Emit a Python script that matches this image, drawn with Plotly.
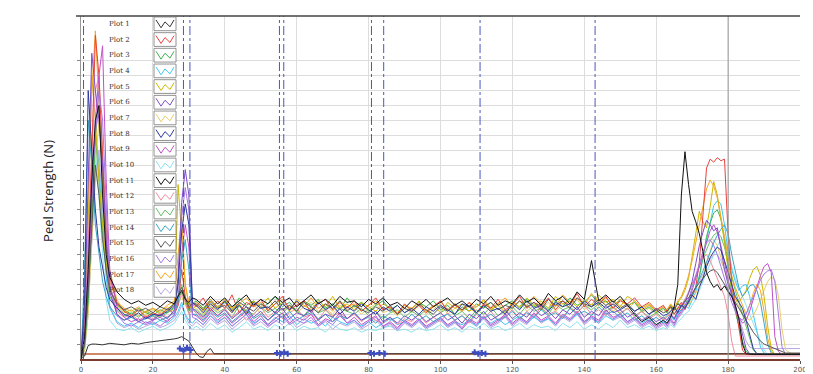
import plotly.graph_objects as go

# ---------------- sampling positions (mm) ----------------
X_START = [0, 1, 2, 3, 4, 5, 6, 7, 8, 10, 12, 14, 16, 18, 20, 22, 24, 26, 27, 28, 29, 30, 31]
X_MID = list(range(32, 163, 2))
X_END = list(range(163, 197)) + [198, 200]
X = X_START + X_MID + X_END

X_TICKS = [0, 20, 40, 60, 80, 100, 120, 140, 160, 180, 200]
Y_GRID = [1, 2, 3, 4, 5, 6, 7, 8, 9, 10, 11, 12, 13, 14, 15, 16, 17, 18, 19, 20]

NAMES = ["Plot 1", "Plot 2", "Plot 3", "Plot 4", "Plot 5", "Plot 6", "Plot 7", "Plot 8", "Plot 9",
         "Plot 10", "Plot 11", "Plot 12", "Plot 13", "Plot 14", "Plot 15", "Plot 16", "Plot 17", "Plot 18"]
COLORS = ["#333333", "#e8413c", "#3cb44b", "#42c8f5", "#cbb800", "#7b4fc9", "#e6cf6a", "#2b3a9e", "#c050c8",
          "#8fe3f0", "#111111", "#f28ca0", "#66c266", "#3aa6c4", "#5a5a5a", "#a678e6", "#f5a623", "#b8a9e0"]

# Plot 1 (low black trace)
P1_X = [0, 1, 2, 3, 4, 6, 8, 10, 12, 14, 16, 18, 20, 22, 24, 26, 27, 28, 29, 30, 31, 32, 33, 34, 35, 36, 37, 200]
P1_Y = [0, 0.2, 0.9, 1.0, 1.0, 0.95, 1.05, 1.0, 0.95, 1.05, 1.0, 1.1, 1.15, 1.25, 1.3, 1.35, 1.4, 1.5, 1.35,
        1.2, 0.8, 0.4, 0.15, 0.1, 0.5, 0.7, 0.35, 0.35]

P2_START = [0, 1.5, 6, 14, 21.7, 19, 13, 8, 5.5, 3.8, 3.2, 2.9, 3.3, 2.8, 3.1, 2.9, 3.4, 3.0, 3.6, 6.0, 4.2, 3.4, 3.8]
P2_MID = [3.5, 4.1, 3.2, 3.9, 3.4, 4.3, 3.1, 3.8, 3.5, 4.0, 3.2,
          3.7, 4.2, 3.3, 3.6, 3.9, 3.1, 3.7, 4.0, 3.3, 3.8, 3.4,
          3.9, 3.2, 3.6, 4.1, 3.3, 3.5, 3.0, 3.7, 3.2, 3.6, 3.1,
          3.5, 3.9, 3.2, 3.6, 3.3, 3.8, 3.1, 3.7, 3.4, 4.0, 3.3,
          3.6, 4.2, 3.4, 3.8, 3.5, 4.1, 3.3, 3.9, 3.6, 4.4, 3.5,
          4.0, 3.6, 4.2, 3.4, 3.9, 3.7, 4.1, 3.5, 3.8, 3.3, 3.6]
P2_END = [3.2, 3.5, 3.0, 3.4, 3.8, 3.3, 3.9, 4.2, 4.8, 6.5, 9.5, 12.8, 13.4, 13.2, 13.5, 13.3, 13.4, 8.4, 5.1, 3.5,
          2.0, 0.6, 0.3, 0.3, 0.3, 0.3, 0.3, 0.3, 0.3, 0.3, 0.3, 0.3, 0.3, 0.3, 0.3, 0.3]

P3_START = [0, 1.0, 4, 10, 15, 17, 12, 7, 4.8, 3.6, 3.3, 3.0, 3.4, 3.1, 2.9, 3.3, 3.1, 3.5, 4.0, 4.5, 3.9, 3.3, 3.7]
P3_MID = [3.9, 3.4, 4.0, 3.5, 3.8, 3.3, 4.1, 3.6, 3.9, 3.4, 3.7,
          4.2, 3.5, 3.8, 3.2, 3.9, 3.6, 4.0, 3.4, 3.7, 3.3, 4.1,
          3.5, 3.8, 3.2, 3.6, 3.9, 3.3, 3.6, 3.1, 3.4, 3.8, 3.5,
          3.9, 3.3, 3.6, 3.0, 3.5, 3.2, 3.7, 3.4, 3.8, 3.3, 3.6,
          3.9, 3.4, 4.0, 3.5, 3.7, 3.3, 3.9, 3.5, 4.1, 3.6, 3.8,
          4.3, 3.7, 3.9, 3.4, 4.0, 3.6, 3.8, 3.2, 3.5, 3.1, 3.4]
P3_END = [3.1, 3.6, 3.3, 3.8, 3.5, 4.0, 3.7, 4.3, 4.8, 5.5, 6.8, 8.2, 9.1, 9.8, 10.0, 9.4, 8.0, 6.2, 4.5, 3.2,
          2.2, 1.2, 0.5, 0.35, 0.3, 0.3, 0.3, 0.3, 0.3, 0.3, 0.3, 0.3, 0.3, 0.3, 0.3, 0.3]

P4_START = [0, 0.8, 5, 11, 15, 13, 9, 5.5, 3.4, 2.5, 2.2, 2.4, 2.1, 2.5, 2.3, 2.6, 2.4, 2.8, 3.2, 3.8, 3.0, 2.6, 2.4]
P4_MID = [2.7, 2.3, 2.9, 2.5, 2.8, 2.2, 2.6, 3.0, 2.4, 2.7, 2.3,
          2.8, 2.5, 2.9, 2.3, 2.7, 2.4, 2.6, 2.2, 2.8, 2.5, 2.3,
          2.6, 2.2, 2.5, 2.1, 2.4, 2.7, 2.3, 2.5, 2.2, 2.6, 2.1,
          2.4, 2.7, 2.2, 2.5, 2.3, 2.6, 2.2, 2.8, 2.4, 2.7, 2.3,
          2.6, 2.9, 2.4, 2.8, 2.5, 2.7, 2.3, 2.9, 2.6, 3.0, 2.5,
          2.8, 2.4, 2.9, 2.6, 3.1, 2.5, 2.8, 2.4, 2.7, 2.3, 2.6]
P4_END = [2.4, 2.8, 2.6, 3.0, 3.3, 3.6, 3.4, 3.9, 4.5, 5.6, 6.8, 8.0, 9.2, 10.3, 10.6, 10.4, 9.0, 7.2, 6.0, 5.2,
          4.6, 4.9, 5.0, 4.2, 3.0, 1.8, 0.8, 0.4, 0.3, 0.3, 0.3, 0.3, 0.3, 0.3, 0.3, 0.3]

P5_START = [0, 2.0, 9, 19, 16, 12, 9, 6.5, 4.6, 3.6, 3.1, 3.3, 2.9, 3.2, 3.4, 3.0, 3.3, 3.8, 11.7, 8.5, 5.0, 3.6, 3.3]
P5_MID = [3.6, 3.2, 3.8, 3.4, 4.0, 3.3, 3.7, 3.1, 3.9, 3.5, 4.1,
          3.4, 3.8, 3.2, 4.0, 3.6, 3.3, 3.9, 3.5, 4.2, 3.4, 3.7,
          3.3, 3.8, 3.5, 3.2, 3.7, 3.4, 3.0, 3.6, 3.3, 3.9, 3.2,
          3.6, 3.1, 3.8, 3.4, 3.7, 3.2, 3.5, 3.9, 3.3, 3.6, 3.1,
          3.8, 3.5, 4.1, 3.6, 3.9, 3.4, 4.2, 3.7, 3.9, 3.5, 4.0,
          3.6, 4.3, 3.8, 4.0, 3.5, 4.2, 3.9, 3.4, 3.7, 3.2, 3.5]
P5_END = [3.3, 3.6, 3.4, 3.8, 4.1, 4.6, 5.4, 6.8, 8.4, 9.9, 9.2, 8.8, 10.2, 11.9, 11.0, 9.5, 7.8, 6.0, 4.8, 4.0,
          3.8, 4.2, 4.6, 5.4, 6.0, 6.2, 5.6, 4.2, 2.2, 0.7, 0.3, 0.3, 0.3, 0.3, 0.3, 0.3]

P6_START = [0, 3.0, 12, 20.5, 18, 16, 13, 8, 4.5, 3.0, 2.6, 2.9, 2.5, 2.8, 2.6, 3.0, 2.7, 3.3, 5.5, 10.5, 12.7, 11.0, 3.4]
P6_MID = [3.2, 2.8, 3.4, 2.9, 3.3, 2.7, 3.1, 3.5, 2.8, 3.2, 2.6,
          3.0, 3.4, 2.7, 3.1, 2.9, 3.3, 2.6, 3.0, 2.8, 3.4, 2.7,
          3.1, 2.6, 2.9, 3.2, 2.5, 2.8, 2.4, 2.9, 2.6, 3.0, 2.5,
          2.8, 3.1, 2.6, 2.9, 2.4, 3.0, 2.7, 3.2, 2.6, 2.9, 3.3,
          2.7, 3.1, 2.8, 3.4, 2.9, 3.2, 2.7, 3.3, 3.0, 3.5, 2.8,
          3.2, 2.9, 3.6, 3.1, 3.3, 2.8, 3.1, 2.6, 2.9, 2.5, 2.8]
P6_END = [2.6, 3.0, 2.7, 3.2, 3.5, 3.8, 4.4, 5.2, 6.4, 7.6, 8.5, 9.3, 9.0, 8.6, 8.8, 7.4, 6.0, 5.0, 4.4, 3.6,
          2.6, 1.5, 0.7, 0.35, 0.3, 0.3, 0.3, 0.3, 0.3, 0.3, 0.3, 0.3, 0.3, 0.3, 0.3, 0.3]

P7_START = [0, 0.6, 3, 8, 13, 16, 13, 9, 6, 4.0, 3.2, 3.0, 3.4, 2.9, 3.3, 3.1, 3.5, 3.2, 3.7, 4.2, 3.6, 3.2, 3.5]
P7_MID = [3.4, 3.0, 3.6, 3.2, 3.8, 3.1, 3.5, 3.3, 3.7, 3.0, 3.4,
          3.9, 3.2, 3.6, 3.1, 3.5, 3.8, 3.2, 3.4, 3.0, 3.6, 3.3,
          3.5, 3.0, 3.4, 3.7, 3.1, 3.3, 2.9, 3.4, 3.1, 3.6, 3.0,
          3.3, 3.7, 3.0, 3.4, 3.2, 3.5, 3.0, 3.6, 3.2, 3.8, 3.1,
          3.4, 3.9, 3.2, 3.6, 3.3, 3.8, 3.2, 3.7, 3.4, 4.0, 3.3,
          3.7, 3.4, 3.9, 3.2, 3.6, 3.3, 3.8, 3.1, 3.4, 3.0, 3.3]
P7_END = [3.1, 3.4, 3.2, 3.5, 3.3, 3.7, 3.6, 4.0, 4.4, 4.9, 5.5, 6.4, 7.2, 8.0, 7.6, 6.8, 6.0, 5.2, 4.6, 4.0,
          3.5, 3.1, 2.8, 2.6, 2.9, 3.4, 4.0, 4.6, 5.2, 5.5, 5.3, 4.2, 2.0, 0.6, 0.3, 0.3]

P8_START = [0, 4, 18, 14, 10, 7.5, 6, 4.8, 4.0, 3.4, 3.0, 2.8, 3.1, 2.7, 3.0, 2.9, 3.2, 3.6, 5.0, 8.5, 10.4, 9.0, 3.8]
P8_MID = [3.6, 3.1, 3.7, 3.3, 3.9, 3.2, 3.6, 3.0, 3.8, 3.4, 3.5,
          3.1, 3.7, 3.3, 3.9, 3.4, 3.2, 3.8, 3.3, 3.6, 3.0, 3.5,
          3.2, 3.7, 3.3, 3.0, 3.5, 3.2, 3.6, 3.1, 3.4, 3.0, 3.5,
          3.2, 3.6, 3.3, 3.0, 3.7, 3.5, 3.1, 3.6, 3.2, 3.4, 3.0,
          3.7, 3.3, 3.9, 3.4, 3.6, 3.2, 3.8, 3.5, 3.7, 3.3, 3.9,
          3.5, 3.8, 3.4, 3.7, 3.3, 3.6, 3.2, 3.5, 3.0, 3.3, 2.9]
P8_END = [3.0, 3.2, 3.5, 3.1, 3.6, 3.4, 3.9, 4.3, 4.0, 4.8, 5.4, 6.2, 6.8, 7.2, 7.5, 7.3, 6.6, 5.8, 5.0, 4.2,
          3.8, 3.4, 2.6, 1.6, 0.7, 0.35, 0.3, 0.3, 0.3, 0.3, 0.3, 0.3, 0.3, 0.3, 0.3, 0.3]

P9_START = [0, 1.2, 5, 11, 16, 19, 21, 12, 6, 3.5, 2.8, 2.5, 2.7, 2.4, 2.6, 2.8, 2.5, 3.0, 4.0, 7.0, 9.0, 7.5, 3.0]
P9_MID = [2.9, 2.5, 3.1, 2.6, 3.0, 2.4, 2.8, 3.2, 2.5, 2.9, 2.3,
          2.7, 3.1, 2.4, 2.8, 2.6, 3.0, 2.3, 2.7, 2.5, 3.1, 2.4,
          2.8, 2.3, 2.6, 2.9, 2.2, 2.5, 2.1, 2.6, 2.3, 2.7, 2.2,
          2.5, 2.8, 2.3, 2.6, 2.1, 2.7, 2.4, 2.9, 2.3, 2.6, 3.0,
          2.4, 2.8, 2.5, 3.1, 2.6, 2.9, 2.4, 3.0, 2.7, 3.2, 2.5,
          2.9, 2.6, 3.3, 2.8, 3.0, 2.5, 2.8, 2.3, 2.6, 2.2, 2.5]
P9_END = [2.3, 2.7, 2.4, 2.9, 3.2, 3.6, 4.0, 4.6, 5.4, 6.2, 7.0, 7.8, 8.6, 9.0, 8.5, 7.6, 6.4, 5.2, 4.2, 3.4,
          2.8, 2.4, 2.6, 3.2, 4.0, 4.8, 5.6, 6.2, 6.4, 5.8, 1.5, 0.5, 0.3, 0.3, 0.3, 0.3]

P10_START = [0, 0.5, 3, 8, 14, 11, 7, 4, 2.6, 2.0, 1.9, 2.1, 1.8, 2.0, 2.2, 1.9, 2.1, 2.4, 2.8, 3.2, 2.6, 2.2, 2.0]
P10_MID = [2.2, 1.9, 2.4, 2.0, 2.3, 1.8, 2.1, 2.5, 2.0, 2.2, 1.9,
           2.3, 2.0, 2.4, 1.9, 2.2, 2.0, 2.1, 1.8, 2.3, 2.0, 1.9,
           2.1, 1.8, 2.0, 1.9, 2.1, 2.2, 1.9, 2.0, 1.8, 2.1, 1.9,
           2.0, 2.3, 1.9, 2.1, 1.8, 2.2, 2.0, 2.4, 2.0, 2.2, 1.9,
           2.1, 2.4, 2.0, 2.3, 2.1, 2.2, 1.9, 2.4, 2.1, 2.5, 2.0,
           2.3, 2.0, 2.4, 2.1, 2.6, 2.1, 2.3, 2.0, 2.2, 1.9, 2.1]
P10_END = [2.0, 2.3, 2.1, 2.5, 2.7, 3.0, 3.2, 3.6, 4.0, 4.6, 5.2, 5.8, 6.4, 7.0, 7.6, 8.0, 8.0, 7.4, 6.2, 5.4,
           4.8, 4.2, 3.6, 3.0, 2.4, 1.8, 1.2, 0.6, 0.3, 0.3, 0.3, 0.3, 0.3, 0.3, 0.3, 0.3]

P11_START = [0, 1.5, 6, 12, 16, 17, 11, 7, 5.5, 4.5, 4.0, 3.7, 3.9, 3.6, 3.8, 3.5, 3.9, 3.7, 4.2, 4.6, 4.0, 3.8, 4.1]
P11_MID = [4.0, 3.6, 4.2, 3.7, 4.1, 3.5, 3.9, 4.3, 3.6, 4.0, 3.7,
           4.2, 3.8, 4.1, 3.5, 3.9, 4.3, 3.7, 4.0, 3.6, 4.2, 3.8,
           3.9, 3.5, 4.0, 3.7, 4.1, 3.6, 3.8, 3.4, 3.9, 3.6, 4.0,
           3.5, 3.8, 4.1, 3.6, 3.9, 3.5, 4.0, 3.7, 4.2, 3.6, 3.9,
           3.7, 4.3, 3.8, 4.1, 3.6, 4.4, 3.9, 4.2, 3.7, 4.5, 4.0,
           6.6, 3.9, 4.3, 3.8, 4.2, 3.6, 3.0, 2.5, 2.8, 2.3, 2.6]
P11_END = [2.4, 2.8, 3.5, 5.0, 11.0, 13.9, 11.7, 9.9, 9.2, 8.4, 7.2, 5.8, 5.2, 4.8, 5.0, 4.6, 4.9, 4.5, 4.2, 3.6,
           2.7, 1.0, 0.35, 0.3, 0.3, 0.3, 0.3, 0.3, 0.3, 0.3, 0.3, 0.3, 0.3, 0.3, 0.3, 0.3]

P12_START = [0, 2.0, 8, 14, 18, 19, 14, 9, 5.0, 3.2, 2.8, 3.0, 2.6, 2.9, 2.7, 3.1, 2.8, 3.2, 3.6, 4.4, 3.8, 3.0, 3.3]
P12_MID = [3.1, 2.7, 3.3, 2.9, 3.4, 2.8, 3.2, 2.6, 3.0, 3.5, 2.8,
           3.2, 2.7, 3.1, 3.4, 2.8, 3.0, 2.6, 3.3, 2.9, 3.1, 2.7,
           3.0, 2.5, 2.9, 2.6, 2.4, 2.8, 2.3, 2.7, 2.5, 3.0, 2.4,
           2.8, 2.5, 3.1, 2.6, 2.9, 2.4, 3.0, 2.7, 3.2, 2.6, 2.9,
           3.3, 2.7, 3.2, 2.8, 3.5, 3.0, 3.2, 2.8, 3.4, 3.1, 3.6,
           3.0, 3.3, 2.9, 3.5, 3.1, 3.4, 2.8, 3.2, 2.7, 3.0, 2.6]
P12_END = [2.8, 3.1, 2.7, 3.3, 3.6, 4.0, 4.5, 5.0, 5.6, 6.2, 6.8, 7.0, 6.6, 6.0, 5.4, 4.8, 4.2, 3.0, 1.2, 0.2,
           0.2, 0.2, 0.2, 0.2, 0.2, 0.2, 0.2, 0.2, 0.2, 0.2, 0.2, 0.2, 0.2, 0.2, 0.2, 0.2]

P13_START = [0, 0.9, 4, 10, 15, 12, 8.5, 6, 4.2, 3.3, 2.9, 3.1, 2.8, 3.2, 3.0, 2.8, 3.1, 3.4, 4.2, 5.0, 4.0, 3.1, 3.3]
P13_MID = [3.3, 2.9, 3.5, 3.1, 3.4, 2.8, 3.6, 3.2, 3.0, 3.5, 3.1,
           3.4, 3.0, 3.6, 3.2, 2.9, 3.5, 3.1, 3.3, 2.8, 3.4, 3.2,
           3.0, 3.4, 2.9, 3.2, 2.7, 3.1, 3.3, 2.8, 3.2, 2.9, 3.3,
           2.8, 3.1, 3.4, 2.9, 3.2, 2.7, 3.3, 3.0, 3.5, 2.9, 3.2,
           3.5, 3.0, 3.6, 3.2, 3.4, 3.0, 3.7, 3.3, 3.5, 3.1, 3.6,
           3.3, 3.7, 3.2, 3.5, 3.0, 3.4, 2.9, 3.2, 2.8, 3.1, 2.7]
P13_END = [2.9, 3.2, 3.0, 3.4, 3.6, 3.9, 4.4, 5.0, 5.5, 6.2, 6.8, 7.4, 7.9, 8.3, 8.5, 8.2, 7.5, 6.4, 5.4, 4.6,
           3.8, 3.0, 2.2, 1.4, 0.6, 0.35, 0.3, 0.3, 0.3, 0.3, 0.3, 0.3, 0.3, 0.3, 0.3, 0.3]

P14_START = [0, 6, 16, 13, 9, 7, 5.2, 4.2, 3.5, 2.9, 2.6, 2.8, 2.5, 2.7, 2.9, 2.6, 2.8, 3.1, 3.8, 6.5, 8.0, 6.0, 3.0]
P14_MID = [3.0, 2.6, 3.2, 2.8, 3.1, 2.5, 2.9, 3.3, 2.7, 3.0, 2.6,
           3.1, 2.8, 3.2, 2.6, 2.9, 3.1, 2.7, 3.0, 2.5, 2.9, 2.7,
           3.1, 2.6, 2.8, 2.4, 2.9, 2.6, 2.8, 2.5, 3.0, 2.6, 2.9,
           2.5, 2.8, 3.0, 2.6, 2.9, 2.5, 3.1, 2.7, 3.0, 2.6, 2.8,
           3.2, 2.7, 3.1, 2.8, 3.3, 2.9, 3.1, 2.7, 3.4, 3.0, 3.2,
           2.9, 3.5, 3.0, 3.2, 2.8, 3.1, 2.6, 2.9, 2.5, 2.8, 2.4]
P14_END = [2.6, 2.9, 2.7, 3.1, 3.3, 3.6, 3.9, 4.3, 4.8, 5.3, 5.9, 6.5, 7.2, 7.8, 8.3, 8.7, 9.0, 8.4, 7.0, 5.8,
           4.8, 4.2, 4.5, 4.9, 5.0, 4.6, 3.8, 2.4, 1.0, 0.4, 0.3, 0.3, 0.3, 0.3, 0.3, 0.3]

P15_START = [0, 1.0, 4.5, 9, 13, 11, 8, 6, 4.6, 3.7, 3.3, 3.5, 3.2, 3.4, 3.1, 3.5, 3.3, 3.7, 4.3, 4.8, 4.1, 3.5, 3.7]
P15_MID = [3.7, 3.3, 3.9, 3.4, 3.6, 3.1, 3.8, 3.5, 3.2, 3.7, 3.4,
           3.9, 3.3, 3.6, 3.2, 3.8, 3.5, 3.1, 3.7, 3.4, 3.9, 3.2,
           3.6, 3.3, 3.1, 3.5, 3.2, 3.6, 3.0, 3.4, 3.2, 3.7, 3.3,
           3.0, 3.5, 3.2, 3.7, 3.3, 3.6, 3.1, 3.5, 3.8, 3.3, 3.6,
           3.4, 3.9, 3.5, 3.8, 3.3, 4.0, 3.6, 3.9, 3.4, 4.1, 3.7,
           3.5, 4.0, 3.6, 3.9, 3.4, 3.7, 3.2, 3.5, 3.0, 3.4, 3.1]
P15_END = [3.2, 3.5, 3.3, 3.7, 3.5, 3.9, 4.1, 4.4, 4.8, 5.1, 5.4, 5.7, 5.9, 6.0, 5.8, 5.4, 5.0, 4.6, 4.2, 3.8,
           3.4, 3.0, 2.6, 2.2, 1.8, 1.5, 1.2, 1.0, 0.9, 0.8, 0.7, 0.6, 0.5, 0.4, 0.4, 0.4]

P16_START = [0, 1.5, 7, 12, 15, 18, 16, 10, 5, 3.0, 2.4, 2.2, 2.5, 2.3, 2.5, 2.2, 2.6, 2.9, 5.0, 9.5, 11.5, 10.0, 2.8]
P16_MID = [2.7, 2.3, 2.9, 2.4, 2.8, 2.2, 2.6, 3.0, 2.3, 2.7, 2.2,
           2.5, 2.9, 2.3, 2.6, 2.4, 2.8, 2.2, 2.6, 2.3, 2.9, 2.4,
           2.6, 2.1, 2.5, 2.8, 2.2, 2.4, 2.0, 2.5, 2.2, 2.6, 2.1,
           2.4, 2.7, 2.2, 2.5, 2.0, 2.6, 2.3, 2.8, 2.2, 2.5, 2.9,
           2.3, 2.7, 2.4, 3.0, 2.5, 2.8, 2.3, 2.9, 2.6, 3.1, 2.4,
           2.8, 2.5, 3.2, 2.7, 2.9, 2.4, 2.7, 2.2, 2.5, 2.1, 2.4]
P16_END = [2.2, 2.6, 2.3, 2.8, 3.1, 3.5, 4.0, 4.8, 5.6, 6.4, 7.2, 7.8, 8.0, 7.6, 7.0, 6.2, 5.4, 4.6, 3.8, 3.2,
           2.8, 2.6, 3.0, 3.6, 4.2, 4.8, 5.3, 5.7, 5.9, 6.0, 5.2, 3.0, 0.8, 0.3, 0.3, 0.3]

P17_START = [0, 2.5, 11, 18, 22, 17, 12, 7.5, 5.2, 3.8, 3.4, 3.2, 3.5, 3.1, 3.4, 3.2, 3.6, 3.9, 7.0, 9.5, 5.0, 3.8, 3.5]
P17_MID = [3.8, 3.3, 4.0, 3.5, 3.9, 3.4, 3.7, 4.1, 3.5, 3.8, 3.3,
           3.7, 4.0, 3.4, 3.8, 3.5, 4.1, 3.4, 3.7, 3.2, 3.9, 3.5,
           3.7, 3.2, 3.6, 3.9, 3.3, 3.5, 3.1, 3.6, 3.4, 3.8, 3.2,
           3.5, 3.9, 3.3, 3.7, 3.2, 3.8, 3.5, 4.0, 3.4, 3.7, 4.1,
           3.5, 3.9, 3.6, 4.2, 3.7, 4.0, 3.5, 4.3, 3.8, 4.1, 3.6,
           4.4, 3.8, 4.1, 3.6, 4.0, 3.5, 3.9, 3.3, 3.6, 3.2, 3.5]
P17_END = [3.3, 3.7, 3.4, 3.9, 4.2, 4.8, 5.6, 6.6, 7.8, 9.0, 10.2, 11.4, 12.0, 11.6, 10.8, 9.6, 8.2, 6.8, 5.6, 4.8,
           4.2, 3.6, 3.0, 3.6, 4.4, 5.0, 4.6, 3.2, 1.4, 0.5, 0.3, 0.3, 0.3, 0.3, 0.3, 0.3]

P18_START = [0, 0.7, 3.5, 8, 12, 14, 10, 6, 3.6, 2.4, 2.1, 2.3, 2.0, 2.2, 2.4, 2.1, 2.3, 2.6, 3.0, 3.6, 2.9, 2.4, 2.2]
P18_MID = [2.5, 2.1, 2.7, 2.3, 2.6, 2.0, 2.4, 2.8, 2.2, 2.5, 2.1,
           2.6, 2.3, 2.7, 2.1, 2.4, 2.6, 2.2, 2.5, 2.0, 2.4, 2.2,
           2.5, 2.0, 2.3, 2.6, 2.1, 2.3, 1.9, 2.4, 2.1, 2.5, 2.0,
           2.3, 2.6, 2.1, 2.4, 2.0, 2.5, 2.2, 2.7, 2.1, 2.4, 2.8,
           2.2, 2.6, 2.3, 2.9, 2.4, 2.7, 2.2, 2.8, 2.5, 3.0, 2.3,
           2.7, 2.4, 3.1, 2.6, 2.8, 2.3, 2.6, 2.1, 2.4, 2.0, 2.3]
P18_END = [2.1, 2.5, 2.2, 2.7, 3.0, 3.4, 3.8, 4.2, 4.7, 5.2, 5.8, 6.3, 6.7, 7.0, 7.0, 6.6, 6.0, 5.2, 4.4, 3.6,
           2.8, 2.0, 1.2, 0.8, 0.7, 0.7, 0.7, 0.7, 0.7, 0.7, 0.7, 0.7, 0.7, 0.7, 0.7, 0.7]

# reference baseline and cursor markers near the bottom
BASE_X = [0, 200]
BASE_Y = [0.33, 0.33]
MARK_X = [27.5, 28.5, 29.5, 30.5, None, 54.5, 55.5, 56.5, 57.5, None, 80.5, 81.5, 83.0, 84.5, None,
          109.5, 110.5, 111.5, 112.5]
MARK_Y = [0.7, 0.55, 0.75, 0.6, None, 0.4, 0.35, 0.45, 0.35, None, 0.4, 0.35, 0.4, 0.35, None,
          0.45, 0.35, 0.4, 0.35]
V_DASH = [0.7, 28.5, 30.3, 55.2, 56.4, 80.8, 84.2, 111.0, 143.0]
V_SOLID = [180]

SERIES = {
    2: (P2_START, P2_MID, P2_END), 3: (P3_START, P3_MID, P3_END), 4: (P4_START, P4_MID, P4_END),
    5: (P5_START, P5_MID, P5_END), 6: (P6_START, P6_MID, P6_END), 7: (P7_START, P7_MID, P7_END),
    8: (P8_START, P8_MID, P8_END), 9: (P9_START, P9_MID, P9_END), 10: (P10_START, P10_MID, P10_END),
    11: (P11_START, P11_MID, P11_END), 12: (P12_START, P12_MID, P12_END), 13: (P13_START, P13_MID, P13_END),
    14: (P14_START, P14_MID, P14_END), 15: (P15_START, P15_MID, P15_END), 16: (P16_START, P16_MID, P16_END),
    17: (P17_START, P17_MID, P17_END), 18: (P18_START, P18_MID, P18_END),
}
for k, (a, b, c) in SERIES.items():
    assert len(a) == len(X_START) and len(b) == len(X_MID) and len(c) == len(X_END), (k, len(a), len(b), len(c))

DRAW_ORDER = [10, 18, 4, 7, 13, 3, 5, 17, 12, 2, 9, 14, 16, 15, 6, 8, 11]

fig = go.Figure()
fig.add_trace(go.Scatter(x=BASE_X, y=BASE_Y, mode="lines", line=dict(color="#c0603a", width=1.5),
                         showlegend=False, hoverinfo="skip"))
for k in DRAW_ORDER:
    a, b, c = SERIES[k]
    fig.add_trace(go.Scatter(x=X, y=a + b + c, mode="lines", name=NAMES[k - 1],
                             line=dict(color=COLORS[k - 1], width=1), showlegend=False))
fig.add_trace(go.Scatter(x=P1_X, y=P1_Y, mode="lines", name=NAMES[0],
                         line=dict(color=COLORS[0], width=1), showlegend=False))
fig.add_trace(go.Scatter(x=MARK_X, y=MARK_Y, mode="lines+markers",
                         line=dict(color="#3b4cc0", width=1.5),
                         marker=dict(symbol="cross", size=5, color="#3b4cc0"),
                         showlegend=False, hoverinfo="skip"))

# plot-area pixel frame (layout only)
L, R, T, B = 73, 792, 8, 358
def px2x(px):
    return (px - L) / (R - L)
def py2y(py):
    return (B - py) / (B - T)

fig.update_layout(
    width=813, height=374,
    margin=dict(l=L, r=813 - R, t=T, b=374 - B),
    paper_bgcolor="white", plot_bgcolor="white",
    showlegend=False,
    xaxis=dict(range=[0, 200], tickvals=X_TICKS, ticktext=[str(t) for t in X_TICKS],
               showgrid=True, gridcolor="#dddddd", gridwidth=1, zeroline=False,
               showline=True, linecolor="#7a3b2e", linewidth=1.5,
               ticks="outside", ticklen=3, tickcolor="#555555",
               tickfont=dict(family="DejaVu Sans", size=7, color="#555555")),
    yaxis=dict(range=[0, 23], tickvals=Y_GRID, showticklabels=False,
               showgrid=True, gridcolor="#dddddd", gridwidth=1, zeroline=False,
               showline=True, linecolor="#999999", linewidth=1,
               ticks="outside", ticklen=3, tickcolor="#888888"),
)

for v in V_DASH:
    fig.add_vline(x=v, line=dict(color="#4a56c0", width=1, dash="dashdot"))
for v in V_SOLID:
    fig.add_vline(x=v, line=dict(color="#9a9a9a", width=1))

fig.add_shape(type="line", xref="paper", yref="paper", x0=px2x(68), x1=1, y0=1, y1=1,
              line=dict(color="#444444", width=1.5))

for i, (name, color) in enumerate(zip(NAMES, COLORS)):
    cy = 16 + i * 16
    fig.add_annotation(x=px2x(99), y=py2y(cy), xref="paper", yref="paper", text=name,
                       showarrow=False, xanchor="left", yanchor="middle",
                       font=dict(family="DejaVu Serif", size=7, color="#333333"))
    fig.add_shape(type="rect", xref="paper", yref="paper", x0=px2x(146), x1=px2x(168),
                  y0=py2y(cy + 7), y1=py2y(cy - 7), line=dict(color="#777777", width=0.8),
                  fillcolor="white")
    pts = [(148, cy - 4), (153, cy + 4), (157, cy - 2), (162, cy + 3), (166, cy - 4)]
    path = "M " + " L ".join(f"{px2x(p):.5f},{py2y(q):.5f}" for p, q in pts)
    fig.add_shape(type="path", xref="paper", yref="paper", path=path,
                  line=dict(color=color, width=1))

fig.add_annotation(x=px2x(40), y=0.49, xref="paper", yref="paper", text="Peel Strength (N)",
                   showarrow=False, textangle=-90, xanchor="center", yanchor="middle",
                   font=dict(family="Open Sans", size=13, color="#222222"))

fig.write_html("out.html")
